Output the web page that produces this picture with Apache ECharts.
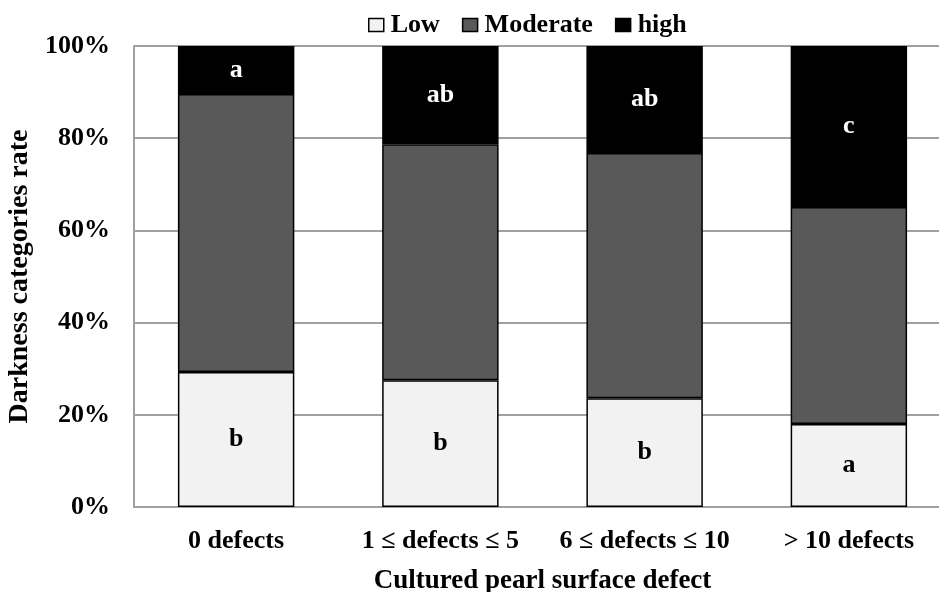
<!DOCTYPE html>
<html>
<head>
<meta charset="utf-8">
<script src="https://cdn.jsdelivr.net/npm/echarts@6/dist/echarts.min.js"></script>
<style>
html,body{margin:0;padding:0;background:#fff;overflow:hidden;}
#chart{width:939px;height:592px;}
</style>
</head>
<body>
<div id="chart"></div>
<script>
const categories = ['0 defects', '1 \u2264 defects \u2264 5', '6 \u2264 defects \u2264 10', '> 10 defects'];
const seriesNames = ['Low', 'Moderate', 'high'];
const lowValues = [29.3, 27.5, 23.6, 18.0];
const moderateValues = [60.3, 51.2, 53.2, 47.1];
const highValues = [10.4, 21.3, 23.2, 34.9];
const lowLetters = ['b', 'b', 'b', 'a'];
const highLetters = ['a', 'ab', 'ab', 'c'];
const yTicks = [0, 20, 40, 60, 80, 100];

const FONT = '"Liberation Serif", "Times New Roman", serif';
const chart = echarts.init(document.getElementById('chart'));
const baseSeries = {
  type: 'bar',
  stack: 'total',
  barWidth: '57%',
  animation: false
};
chart.setOption({
  animation: false,
  textStyle: { fontFamily: FONT },
  legend: {
    top: 7,
    left: 363,
    icon: 'rect',
    itemWidth: 15,
    itemHeight: 13,
    itemGap: 22,
    data: seriesNames,
    textStyle: { fontFamily: FONT, fontWeight: 'bold', fontSize: 26, color: '#000', padding: [0, 1, 0, 2] },
    itemStyle: { borderColor: '#000', borderWidth: 1.5 }
  },
  grid: { left: 134, width: 817, top: 46, bottom: 85, containLabel: false, outerBoundsMode: 'none' },
  xAxis: {
    type: 'category',
    data: categories,
    name: 'Cultured pearl surface defect',
    nameLocation: 'middle',
    nameGap: 61,
    nameTextStyle: { fontFamily: FONT, fontWeight: 'bold', fontSize: 27, color: '#000' },
    axisLine: { lineStyle: { color: '#a0a0a0', width: 2 } },
    axisTick: { show: false },
    axisLabel: { interval: 0, fontFamily: FONT, fontWeight: 'bold', fontSize: 26, color: '#000', margin: 21 }
  },
  yAxis: {
    type: 'value',
    min: yTicks[0],
    max: yTicks[yTicks.length - 1],
    interval: yTicks[1] - yTicks[0],
    name: 'Darkness categories rate',
    nameLocation: 'middle',
    nameGap: 98,
    nameTextStyle: { fontFamily: FONT, fontWeight: 'bold', fontSize: 28, color: '#000' },
    axisLine: { show: true, lineStyle: { color: '#a0a0a0', width: 2 } },
    axisTick: { show: false },
    splitLine: { lineStyle: { color: '#a0a0a0', width: 2 } },
    axisLabel: { formatter: '{value}%', fontFamily: FONT, fontWeight: 'bold', fontSize: 26, color: '#000', margin: 24 }
  },
  series: [
    Object.assign({}, baseSeries, {
      name: seriesNames[0],
      data: lowValues,
      itemStyle: { color: '#f2f2f2', borderColor: '#000', borderWidth: 1.5 },
      label: {
        show: true, position: 'inside',
        formatter: p => lowLetters[p.dataIndex],
        fontFamily: FONT, fontWeight: 'bold', fontSize: 26, color: '#000'
      }
    }),
    Object.assign({}, baseSeries, {
      name: seriesNames[1],
      data: moderateValues,
      itemStyle: { color: '#595959', borderColor: '#000', borderWidth: 1.5 }
    }),
    Object.assign({}, baseSeries, {
      name: seriesNames[2],
      data: highValues,
      itemStyle: { color: '#000000', borderColor: '#000', borderWidth: 1.5 },
      label: {
        show: true, position: 'inside',
        formatter: p => highLetters[p.dataIndex],
        fontFamily: FONT, fontWeight: 'bold', fontSize: 26, color: '#fff'
      }
    })
  ]
});
</script>
</body>
</html>
